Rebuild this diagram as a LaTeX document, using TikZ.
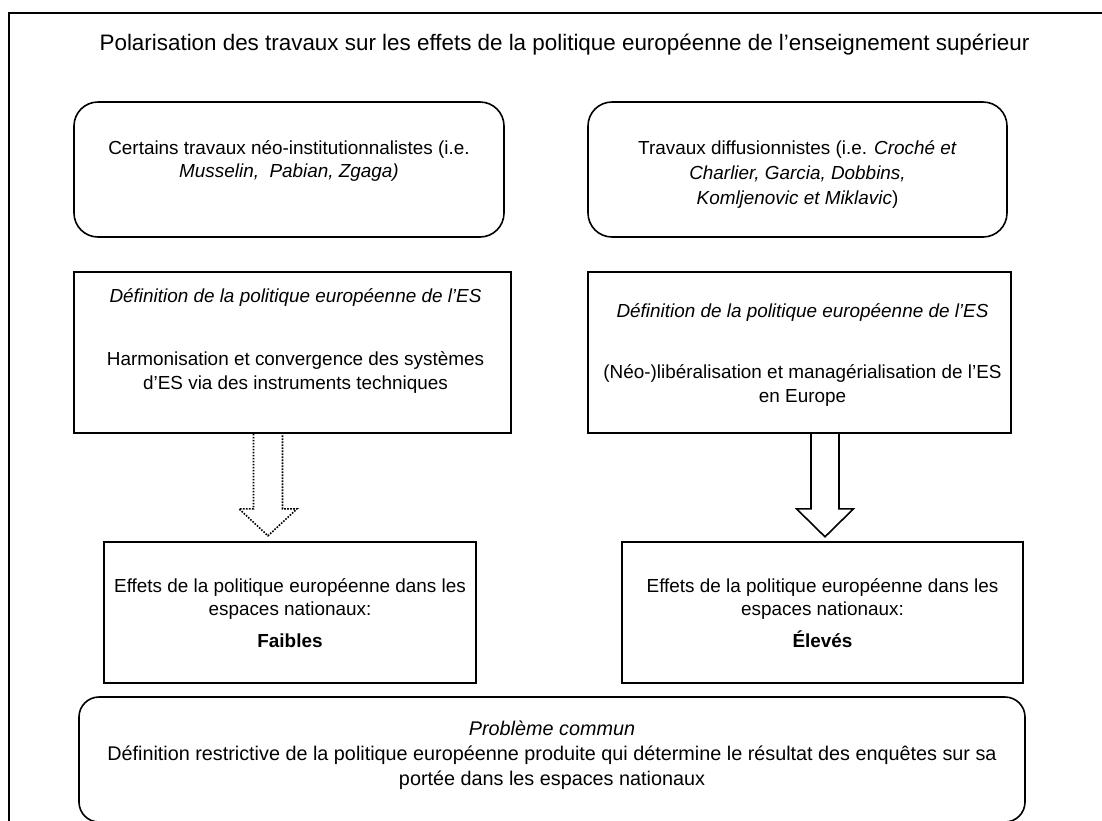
\documentclass[tikz,border=0pt]{standalone}
\usepackage{fontspec}
\setmainfont{Liberation Sans}
\usetikzlibrary{positioning}

\tikzset{
  frame/.style={line width=1.4pt},
  rbox/.style={draw, rounded corners=12pt, line width=0.8pt, inner sep=0pt},
  sbox/.style={draw, line width=0.8pt, inner sep=0pt},
  txt/.style={align=center, inner sep=0pt, font=\fontsize{9.45}{11.75}\selectfont},
  hollow/.style={line width=0.8pt, line join=miter},
}

\begin{document}
\begin{tikzpicture}[x=0.5pt, y=-0.5pt]
  \useasboundingbox (0,0) rectangle (1102,820);
  % outer frame, cut by the page
  \draw[frame] (9,840) -- (9,13) -- (1120,13);
  \node[anchor=base, inner sep=0pt, font=\fontsize{11.2}{13}\selectfont] (title) at (564.5,50)
    {Polarisation des travaux sur les effets de la politique européenne de l’enseignement supérieur};

  % top row
  \node[rbox, minimum width=215pt, minimum height=67.5pt] (neo) at (289,169.5) {};
  \node[rbox, minimum width=209.5pt, minimum height=67.5pt] (diff) at (797.5,169.5) {};
  \node[txt, below=18.1pt of neo.north] (neotxt)
    {\strut Certains travaux néo-institutionnalistes (i.e.\\ \textit{Musselin,\ \ Pabian, Zgaga)}};
  \node[txt, below=17.5pt of diff.north, font=\fontsize{9.45}{12.5}\selectfont] (difftxt)
    {\strut Travaux diffusionnistes (i.e. \textit{Croché et}\\ \textit{Charlier, Garcia, Dobbins,}\\ \textit{Komljenovic et Miklavic})};

  % definitions
  \node[sbox, minimum width=218.5pt, minimum height=80.5pt] (defneo) at (292.5,352.5) {};
  \node[sbox, minimum width=211.5pt, minimum height=80.5pt] (defdiff) at (799.5,352.5) {};
  \node[txt, below=7pt of defneo.north, xshift=1.5pt] (defneotxt)
    {\strut\textit{Définition de la politique européenne de l’ES}\\[20pt]
     Harmonisation et convergence des systèmes\\ d’ES via des instruments techniques};
  \node[txt, below=14.5pt of defdiff.north, xshift=1.5pt] (defdifftxt)
    {\strut\textit{Définition de la politique européenne de l’ES}\\[19pt]
     (Néo-)libéralisation et managérialisation de l’ES\\ en Europe};

  % effects
  \node[sbox, minimum width=186pt, minimum height=70.5pt] (weak) at (290,612.5) {};
  \node[sbox, minimum width=200.5pt, minimum height=70.5pt] (strong) at (822.5,612.5) {};
  \node[txt, below=17pt of weak.north] (weaktxt)
    {\strut Effets de la politique européenne dans les\\ espaces nationaux:\\[4pt] \textbf{Faibles}};
  \node[txt, below=17pt of strong.north] (strongtxt)
    {\strut Effets de la politique européenne dans les\\ espaces nationaux:\\[4pt] \textbf{Élevés}};

  % block arrows
  \draw[hollow, dash pattern=on 0.8pt off 0.7pt] ([xshift=-12.25pt]defneo.south)
    ++(-14.5,0) -- ++(0,75) -- ++(-14.5,0) -- ++(29,27) -- ++(29,-27) -- ++(-14.5,0) -- ++(0,-75);
  \draw[hollow] ([xshift=12.75pt]defdiff.south)
    ++(-14,0) -- ++(0,75) -- ++(-14.5,0) -- ++(28.5,28) -- ++(28.5,-28) -- ++(-14.5,0) -- ++(0,-75);

  % common problem
  \node[rbox, rounded corners=10pt, minimum width=473pt, minimum height=62.5pt] (common) at (552,759.5) {};
  \node[txt, below=10.5pt of common.north, font=\fontsize{9.9}{12.5}\selectfont] (commontxt)
    {\strut\textit{Problème commun}\\
     Définition restrictive de la politique européenne produite qui détermine le résultat des enquêtes sur sa\\
     portée dans les espaces nationaux};
\end{tikzpicture}
\end{document}
